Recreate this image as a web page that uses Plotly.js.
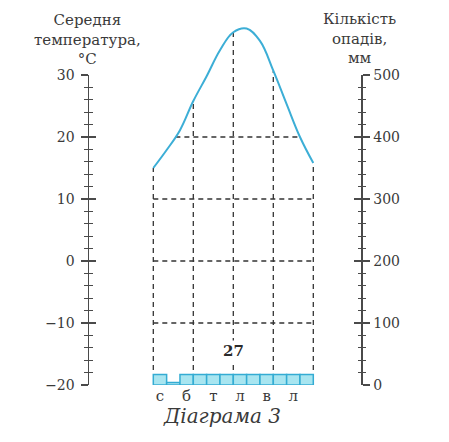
<!DOCTYPE html>
<html>
<head>
<meta charset="utf-8">
<script src="https://cdn.plot.ly/plotly-3.0.1.min.js"></script>
<style>html,body{margin:0;padding:0;background:#fff;}#chart{width:449px;height:442px;}</style>
</head>
<body>
<div id="chart"></div>
<script>
// ---- data ----
const monthPos = [0.5,1.5,2.5,3.5,4.5,5.5,6.5,7.5,8.5,9.5,10.5,11.5];
const precip = [17,4,17,17,17,17,17,17,17,17,17,17];
const tickPos = [0.5,2.5,4.5,6.5,8.5,10.5];
const tickLabels = ['с','б','т','л','в','л'];
const tempX = [0,1,2,3,4,5,6,7,8,9,10,11,12];
const temp = [15.0,17.9,21.1,25.8,29.8,34.0,36.9,37.5,35.5,30.7,25.3,20.0,15.8];
const gridX = [0,3,6,9,12];
const gridT = [20,10,0,-10];
const totalPrecip = '27';
const leftTitle = 'Середня<br>температура,<br>°C';
const rightTitle = 'Кількість<br>опадів,<br>мм';
const caption = 'Діаграма 3';

// ---- helpers ----
const FONT = 'DejaVu Serif, Liberation Serif, serif';
const TXT = '#3a3a3a';
const AX = '#4a4a4a';
const DASH = '#333333';
const lineBottom = -17.6;

function tempAt(x){
  for (let i=0;i<tempX.length-1;i++){
    if (x>=tempX[i] && x<=tempX[i+1]){
      const f=(x-tempX[i])/(tempX[i+1]-tempX[i]);
      return temp[i]+f*(temp[i+1]-temp[i]);
    }
  }
  return null;
}
function crossings(level){
  const xs=[];
  for (let i=0;i<tempX.length-1;i++){
    const a=temp[i]-level, b=temp[i+1]-level;
    if (a===0) xs.push(tempX[i]);
    else if (a*b<0) xs.push(tempX[i]+(tempX[i+1]-tempX[i])*a/(a-b));
  }
  return xs;
}

// geometry
const L=89, R=88, T=20, B=57, W=449, H=442;
const domW = W-L-R;
const domH = H-T-B;
const axisTopPx = 75;
const mainH = (H-B) - axisTopPx;
const mainTop = mainH/domH;
const pxPerDeg = mainH/50;
const curveRange = [-20, -20 + domH/pxPerDeg];
const pxPerMonth = 160/12;
const x0px = 153.3 - L;
const xRange = [-x0px/pxPerMonth, (domW-x0px)/pxPerMonth];

const traces = [];
gridX.forEach(x=>{
  traces.push({x:[x,x], y:[lineBottom, tempAt(x)], xaxis:'x', yaxis:'y5', mode:'lines',
    line:{color:DASH,width:1.3,dash:'5px,4px'}, hoverinfo:'skip', showlegend:false});
});
gridT.forEach(t=>{
  let x0=tempX[0], x1=tempX[tempX.length-1];
  const c=crossings(t);
  if (c.length>=2){ x0=c[0]; x1=c[c.length-1]; }
  traces.push({x:[x0,x1], y:[t,t], xaxis:'x', yaxis:'y5', mode:'lines',
    line:{color:DASH,width:1.3,dash:'5px,4px'}, hoverinfo:'skip', showlegend:false});
});
traces.push({type:'bar', x:monthPos, y:precip, xaxis:'x', yaxis:'y2', width:1,
  marker:{color:'#a8e5f0', line:{color:'#34acd3', width:1.5}}, showlegend:false, hoverinfo:'skip'});
traces.push({x:tempX, y:temp, xaxis:'x', yaxis:'y5', mode:'lines',
  line:{color:'#3caed6', width:2, shape:'spline', smoothing:1.1}, showlegend:false});
traces.push({x:[0], y:[0], xaxis:'x', yaxis:'y', mode:'markers', marker:{opacity:0}, hoverinfo:'skip', showlegend:false});
traces.push({x:[0], y:[0], xaxis:'x', yaxis:'y3', mode:'markers', marker:{opacity:0}, hoverinfo:'skip', showlegend:false});
traces.push({x:[0], y:[100], xaxis:'x', yaxis:'y4', mode:'markers', marker:{opacity:0}, hoverinfo:'skip', showlegend:false});

const tickBase = {ticklen:7, tickwidth:1.3, tickcolor:AX, showgrid:false, zeroline:false,
  tickfont:{family:FONT, size:14, color:TXT}, fixedrange:true};
const minorOut = {dtick:2, ticklen:3.5, tickwidth:1.1, tickcolor:AX, ticks:'outside', showgrid:false};
const minorIn = {dtick:2, ticklen:3.5, tickwidth:1.1, tickcolor:AX, ticks:'inside', showgrid:false};
const minorOut2 = Object.assign({}, minorOut, {dtick:20});
const minorIn2 = Object.assign({}, minorIn, {dtick:20});

const py = p => ((H-B) - p)/domH;
const px = p => (p - L)/domW;

const layout = {
  width:W, height:H, margin:{l:L, r:R, t:T, b:B, pad:0},
  paper_bgcolor:'#fff', plot_bgcolor:'rgba(0,0,0,0)',
  showlegend:false, bargap:0,
  xaxis:{range:xRange, anchor:'y', showline:false, showgrid:false, zeroline:false, ticks:'',
    tickvals:tickPos, ticktext:tickLabels, ticklabelstandoff:0,
    tickfont:{family:FONT, size:15, color:TXT}, fixedrange:true},
  yaxis:Object.assign({}, tickBase, {domain:[0,mainTop], range:[-20,30], dtick:10, tick0:0, ticks:'outside',
    anchor:'x', showline:true, linecolor:AX, linewidth:1.5, minor:minorOut, ticklabelstandoff:3}),
  yaxis3:Object.assign({}, tickBase, {range:[-20,30], dtick:10, tick0:0, ticks:'inside',
    overlaying:'y', side:'left', anchor:'x', showticklabels:false, showline:false, minor:minorIn}),
  yaxis2:Object.assign({}, tickBase, {range:[0,500], dtick:100, tick0:0, ticks:'outside',
    overlaying:'y', side:'right', anchor:'x', showline:true, linecolor:AX, linewidth:1.5, minor:minorOut2, ticklabelstandoff:1}),
  yaxis4:Object.assign({}, tickBase, {range:[0,500], dtick:100, tick0:0, ticks:'inside',
    overlaying:'y', side:'right', anchor:'x', showticklabels:false, showline:false, minor:minorIn2}),
  yaxis5:{domain:[0,1], range:curveRange, anchor:'x', visible:false, showgrid:false, zeroline:false, fixedrange:true},
  annotations:[
    {text:leftTitle, xref:'paper', yref:'paper', x:px(87), y:py(39),
      xanchor:'center', yanchor:'middle', showarrow:false, align:'center',
      font:{family:FONT, size:15, color:TXT}},
    {text:rightTitle, xref:'paper', yref:'paper', x:px(359), y:py(38),
      xanchor:'center', yanchor:'middle', showarrow:false, align:'center',
      font:{family:FONT, size:15, color:TXT}},
    {text:'<b>'+totalPrecip+'</b>', xref:'x', yref:'y5', x:6, y:-14.5, showarrow:false,
      xanchor:'center', yanchor:'middle', bgcolor:'#ffffff', borderpad:1,
      font:{family:FONT, size:15, color:'#2a2a2a'}},
    {text:'<i>'+caption+'</i>', xref:'paper', yref:'paper', x:px(222), y:py(416),
      xanchor:'center', yanchor:'middle', showarrow:false, font:{family:FONT, size:20, color:TXT}}
  ]
};

Plotly.newPlot('chart', traces, layout, {staticPlot:true, displayModeBar:false});
</script>
</body>
</html>
